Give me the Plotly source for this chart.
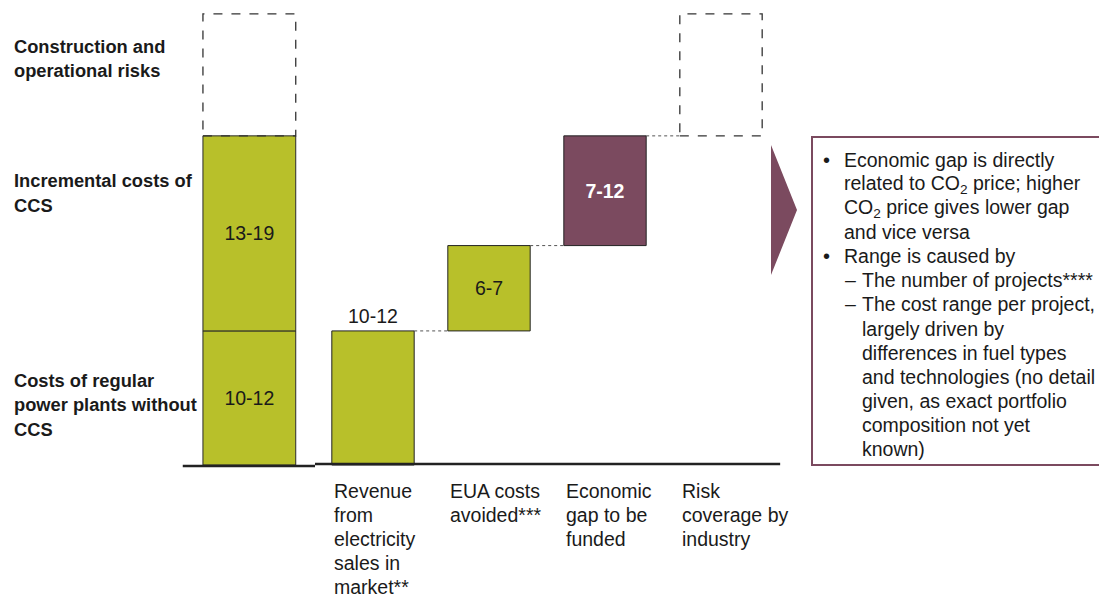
import plotly.graph_objects as go

# ---------------- data ----------------
categories = [
    "",
    "Revenue<br>from<br>electricity<br>sales in<br>market**",
    "EUA costs<br>avoided***",
    "Economic<br>gap to be<br>funded",
    "Risk<br>coverage by<br>industry",
]
# first column (stacked costs)
regular_cost = 11      # Costs of regular power plants without CCS (10-12)
incremental_ccs = 16   # Incremental costs of CCS (13-19)
construction_risk = 10 # Construction and operational risks (dashed)
cost_labels = ["10-12", "13-19"]
# waterfall columns
revenue = 11           # 10-12
eua_avoided = 7        # 6-7
economic_gap = 9       # 7-12
risk_coverage = 10     # dashed
step_labels = ["10-12", "6-7", "7-12"]

left_labels = [
    "Construction and<br>operational risks",
    "Incremental costs of<br>CCS",
    "Costs of regular<br>power plants without<br>CCS",
]

note_lines = [
    ("bullet", "Economic gap is directly"),
    ("cont", "related to CO<sub>2</sub> price; higher"),
    ("cont", "CO<sub>2</sub> price gives lower gap"),
    ("cont", "and vice versa"),
    ("bullet", "Range is caused by"),
    ("dash", "The number of projects****"),
    ("dash", "The cost range per project,"),
    ("sub", "largely driven by"),
    ("sub", "differences in fuel types"),
    ("sub", "and technologies (no detail"),
    ("sub", "given, as exact portfolio"),
    ("sub", "composition not yet"),
    ("sub", "known)"),
]

# ---------------- style ----------------
GREEN = "#B8C02A"
MAUVE = "#7B4A5F"
FONT = "Liberation Sans, Arial, sans-serif"
W, H = 1099, 596
BAR_W = 0.71
FIRST_W = 0.80
FIRST_OFF = -0.466


def px_x(p):
    return p / W


def px_y(p):
    return 1 - p / H


fig = go.Figure()

# first column: stacked cost bars
fig.add_trace(go.Bar(
    x=[0, 0], y=[regular_cost, incremental_ccs], base=[0, regular_cost],
    width=FIRST_W, offset=FIRST_OFF,
    marker=dict(color=GREEN, line=dict(color="#2a2a2a", width=1)),
    text=cost_labels, textposition="inside", insidetextanchor="middle",
    textfont=dict(family=FONT, size=19.5, color="#1a1a1a"),
    constraintext="none", showlegend=False, hoverinfo="skip",
))

# waterfall steps
steps = [revenue, eua_avoided, economic_gap]
bases = [0, revenue, revenue + eua_avoided]
colors = [GREEN, GREEN, MAUVE]
fig.add_trace(go.Bar(
    x=[1, 2], y=steps[:2], base=bases[:2], width=BAR_W,
    marker=dict(color=colors[:2], line=dict(color="#222", width=1)),
    showlegend=False, hoverinfo="skip",
))
fig.add_trace(go.Bar(
    x=[3], y=[economic_gap], base=[bases[2]], width=BAR_W,
    marker=dict(color=MAUVE, line=dict(color="#222", width=1)),
    text=[step_labels[2]], textposition="inside", insidetextanchor="middle",
    textfont=dict(family=FONT, size=19.5, color="white", weight="bold"),
    constraintext="none", showlegend=False, hoverinfo="skip",
))

# text labels for revenue (above) and EUA (inside)
fig.add_annotation(x=1, y=revenue, yref="y", xref="x", text=step_labels[0],
                   showarrow=False, yanchor="bottom", yshift=2,
                   font=dict(family=FONT, size=19.5, color="#1a1a1a"))
fig.add_annotation(x=2, y=revenue + eua_avoided / 2, text=step_labels[1],
                   showarrow=False, font=dict(family=FONT, size=19.5, color="#1a1a1a"))

# dashed boxes
total_cost = regular_cost + incremental_ccs
fig.add_shape(type="rect", xref="x", yref="y",
              x0=FIRST_OFF, x1=FIRST_OFF + FIRST_W,
              y0=total_cost, y1=total_cost + construction_risk,
              line=dict(color="#333", width=1.3, dash="dash"))
top_gap = revenue + eua_avoided + economic_gap
fig.add_shape(type="rect", xref="x", yref="y",
              x0=4 - BAR_W / 2, x1=4 + BAR_W / 2,
              y0=top_gap, y1=top_gap + risk_coverage,
              line=dict(color="#333", width=1.3, dash="dash"))

# connectors
levels = [revenue, revenue + eua_avoided, top_gap]
for i, lv in enumerate(levels):
    fig.add_shape(type="line", xref="x", yref="y",
                  x0=1 + i + BAR_W / 2, x1=2 + i - BAR_W / 2, y0=lv, y1=lv,
                  line=dict(color="#555", width=1, dash="dot"))

# baseline
fig.add_shape(type="line", xref="x", yref="y", x0=-0.64, x1=0.5, y0=-0.08, y1=-0.08,
              line=dict(color="#222", width=2.5))
fig.add_shape(type="line", xref="x", yref="y", x0=0.5, x1=4.51, y0=0.08, y1=0.08,
              line=dict(color="#222", width=2.5))

# category labels (left aligned under bars)
for i, cat in enumerate(categories):
    if not cat:
        continue
    for j, line in enumerate(cat.split("<br>")):
        fig.add_annotation(x=i - BAR_W / 2, xref="x", y=px_y(491 + 24 * j), yref="paper",
                           text=line, showarrow=False, xanchor="left", yanchor="middle",
                           font=dict(family=FONT, size=19.5, color="#1a1a1a"))

# left bold labels
left_y = [46, 181, 380]
for lab, y0 in zip(left_labels, left_y):
    for j, line in enumerate(lab.split("<br>")):
        fig.add_annotation(x=px_x(12), xref="paper", y=px_y(y0 + 24.5 * j), yref="paper",
                           text=line, showarrow=False, xanchor="left", yanchor="middle",
                           font=dict(family=FONT, size=18.3, color="#1a1a1a", weight="bold"))

# arrow triangle
fig.add_shape(type="path", xref="paper", yref="paper",
              path=f"M {px_x(771)} {px_y(145)} L {px_x(797)} {px_y(210)} L {px_x(771)} {px_y(275)} Z",
              fillcolor=MAUVE, line=dict(width=0))

# note box
fig.add_shape(type="rect", xref="paper", yref="paper",
              x0=px_x(812), x1=1.02, y0=px_y(465), y1=px_y(137),
              line=dict(color=MAUVE, width=2))
for j, (kind, txt) in enumerate(note_lines):
    y = px_y(160 + 24.08 * j)
    if kind == "bullet":
        fig.add_annotation(x=px_x(826), xref="paper", y=y, yref="paper", text="•",
                           showarrow=False, xanchor="center", yanchor="middle",
                           font=dict(family=FONT, size=20, color="#1a1a1a"))
        tx = 842
    elif kind == "cont":
        tx = 842
    elif kind == "dash":
        fig.add_annotation(x=px_x(843), xref="paper", y=y, yref="paper", text="–",
                           showarrow=False, xanchor="left", yanchor="middle",
                           font=dict(family=FONT, size=19.5, color="#1a1a1a"))
        tx = 860
    else:
        tx = 860
    fig.add_annotation(x=px_x(tx), xref="paper", y=y, yref="paper", text=txt,
                       showarrow=False, xanchor="left", yanchor="middle",
                       font=dict(family=FONT, size=19.5, color="#1a1a1a"))

fig.update_layout(
    width=W, height=H, margin=dict(l=0, r=0, t=0, b=0),
    plot_bgcolor="white", paper_bgcolor="white",
    barmode="overlay", showlegend=False,
    xaxis=dict(range=[-257 / 116, (W - 257) / 116], visible=False, fixedrange=True),
    yaxis=dict(range=[-(H - 465) / 12.19, 465 / 12.19], visible=False, fixedrange=True),
)

fig.write_html(
    "out.html",
    config={"displayModeBar": False},
    post_script="document.body.style.margin='0';document.body.style.overflow='hidden';",
)
